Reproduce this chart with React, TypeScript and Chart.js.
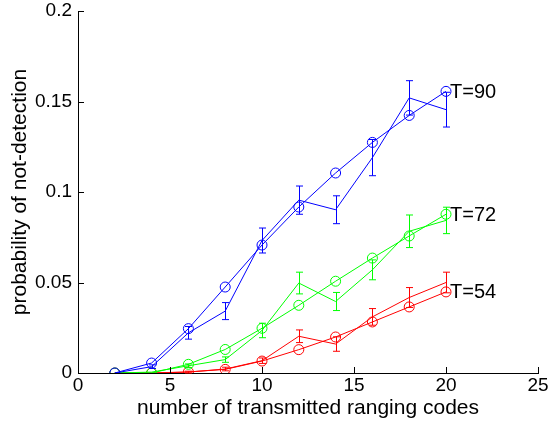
import React, { useEffect, useRef } from "react";
import { Chart, registerables } from "chart.js";

Chart.register(...registerables);

const xValues = [2, 4, 6, 8, 10, 12, 14, 16, 18, 20];

const modelT90 = [0, 0.0055, 0.0245, 0.0475, 0.0707, 0.0917, 0.1105, 0.1274, 0.1423, 0.1556];
const simT90 = [0, 0.0035, 0.0222, 0.0342, 0.0732, 0.0955, 0.0902, 0.119, 0.152, 0.1455];
const errT90 = [0, 0.001, 0.0035, 0.0047, 0.0069, 0.0078, 0.0077, 0.01, 0.0095, 0.0096];

const modelT72 = [0, 0, 0.0048, 0.013, 0.0247, 0.0374, 0.0507, 0.0635, 0.0757, 0.0877];
const simT72 = [0, 0.0005, 0.004, 0.0074, 0.0235, 0.0497, 0.0395, 0.057, 0.0783, 0.0843];
const errT72 = [0, 0, 0.001, 0.0015, 0.004, 0.006, 0.005, 0.0055, 0.009, 0.0073];

const modelT54 = [0, 0, 0.0006, 0.002, 0.0066, 0.0129, 0.0199, 0.0282, 0.0365, 0.0448];
const simT54 = [0, 0, 0.0005, 0.0022, 0.0068, 0.0203, 0.016, 0.031, 0.0417, 0.05];
const errT54 = [0, 0, 0.0005, 0.001, 0.0015, 0.0035, 0.004, 0.0046, 0.0055, 0.0057];

const seriesLabels = ["T=90", "T=72", "T=54"];
const seriesColors = ["#0000ff", "#00ff00", "#ff0000"];

const xTicks = [0, 5, 10, 15, 20, 25];
const yTicks = [0, 0.05, 0.1, 0.15, 0.2];
const yTickLabels = ["0", "0.05", "0.1", "0.15", "0.2"];

const xTitle = "number of transmitted ranging codes";
const yTitle = "probability of not-detection";

const FONT = "'Liberation Sans', Arial, Helvetica, sans-serif";

const models = [modelT90, modelT72, modelT54];
const sims = [simT90, simT72, simT54];
const errs = [errT90, errT72, errT54];

export default function App() {
  const ref = useRef<HTMLCanvasElement | null>(null);

  useEffect(() => {
    if (!ref.current) return;
    const datasets: any[] = [];
    for (let i = 0; i < 3; i++) {
      datasets.push({
        label: seriesLabels[i] + " model",
        data: xValues.map((x, k) => ({ x, y: models[i][k] })),
        borderColor: seriesColors[i],
        backgroundColor: "rgba(0,0,0,0)",
        borderWidth: 1,
        pointRadius: 5,
        pointBorderWidth: 1,
        pointBorderColor: seriesColors[i],
        pointBackgroundColor: "rgba(0,0,0,0)",
        pointStyle: "circle",
        tension: 0,
        fill: false,
        showLine: true,
      });
      datasets.push({
        label: seriesLabels[i] + " simulation",
        data: xValues.map((x, k) => ({ x, y: sims[i][k], err: errs[i][k] })),
        borderColor: seriesColors[i],
        backgroundColor: "rgba(0,0,0,0)",
        borderWidth: 1,
        pointRadius: 0,
        tension: 0,
        fill: false,
        showLine: true,
        errorBars: true,
      });
    }

    const errorBarPlugin = {
      id: "errorBars",
      afterDatasetsDraw(chart: any) {
        const ctx = chart.ctx;
        const xs = chart.scales.x;
        const ys = chart.scales.y;
        ctx.save();
        chart.data.datasets.forEach((ds: any) => {
          if (!ds.errorBars) return;
          ctx.strokeStyle = ds.borderColor;
          ctx.lineWidth = 1;
          ds.data.forEach((p: any) => {
            if (!p.err) return;
            const px = Math.round(xs.getPixelForValue(p.x)) + 0.5;
            const yt = ys.getPixelForValue(p.y + p.err);
            const yb = ys.getPixelForValue(p.y - p.err);
            ctx.beginPath();
            ctx.moveTo(px, yt);
            ctx.lineTo(px, yb);
            ctx.moveTo(px - 3.5, yt);
            ctx.lineTo(px + 3.5, yt);
            ctx.moveTo(px - 3.5, yb);
            ctx.lineTo(px + 3.5, yb);
            ctx.stroke();
          });
        });
        ctx.restore();
      },
    };

    const annotationPlugin = {
      id: "seriesText",
      afterDraw(chart: any) {
        const ctx = chart.ctx;
        const xs = chart.scales.x;
        const ys = chart.scales.y;
        ctx.save();
        ctx.fillStyle = "#000";
        ctx.font = `20px ${FONT}`;
        ctx.textAlign = "left";
        ctx.textBaseline = "middle";
        for (let i = 0; i < 3; i++) {
          const last = xValues.length - 1;
          const px = xs.getPixelForValue(xValues[last]);
          const py = ys.getPixelForValue(models[i][last]);
          ctx.fillText(seriesLabels[i], px + 4, py + 1);
        }
        // inward tick marks
        ctx.strokeStyle = "#000";
        ctx.lineWidth = 1;
        ctx.beginPath();
        xTicks.forEach((t) => {
          const px = Math.round(xs.getPixelForValue(t)) + 0.5;
          ctx.moveTo(px, chart.chartArea.bottom);
          ctx.lineTo(px, chart.chartArea.bottom - 6);
        });
        yTicks.forEach((t) => {
          const py = Math.round(ys.getPixelForValue(t)) + 0.5;
          ctx.moveTo(chart.chartArea.left, py);
          ctx.lineTo(chart.chartArea.left + 6, py);
        });
        ctx.stroke();
        ctx.restore();
      },
    };

    const zeroPad = (scale: any) => {
      scale.paddingTop = 0;
      scale.paddingBottom = 0;
      scale.paddingLeft = 0;
      scale.paddingRight = 0;
    };

    const chart = new Chart(ref.current, {
      type: "scatter",
      data: { datasets },
      plugins: [errorBarPlugin, annotationPlugin],
      options: {
        animation: false,
        responsive: false,
        maintainAspectRatio: false,
        events: [],
        layout: { padding: { top: 11, right: 17, bottom: 0, left: 0 } },
        plugins: {
          legend: { display: false },
          tooltip: { enabled: false },
        },
        scales: {
          x: {
            type: "linear",
            min: 0,
            max: 25,
            afterBuildTicks: (scale: any) => {
              scale.ticks = xTicks.map((v) => ({ value: v }));
            },
            afterFit: (scale: any) => {
              scale.height = 50;
              zeroPad(scale);
            },
            grid: { display: false, drawTicks: false },
            border: { display: true, color: "#000", width: 1 },
            ticks: {
              color: "#000",
              padding: 1,
              font: { family: FONT, size: 19 },
              maxRotation: 0,
              autoSkip: false,
              callback: (v: any) => String(v),
            },
            title: {
              display: true,
              text: xTitle,
              color: "#000",
              font: { family: FONT, size: 21 },
              padding: { top: 0, bottom: 2 },
            },
          },
          y: {
            type: "linear",
            min: 0,
            max: 0.2,
            afterBuildTicks: (scale: any) => {
              scale.ticks = yTicks.map((v) => ({ value: v }));
            },
            afterFit: (scale: any) => {
              scale.width = 78;
              zeroPad(scale);
            },
            grid: { display: false, drawTicks: false },
            border: { display: true, color: "#000", width: 1 },
            ticks: {
              color: "#000",
              padding: 6,
              font: { family: FONT, size: 19 },
              autoSkip: false,
              callback: (v: any) => {
                const idx = yTicks.findIndex((t) => Math.abs(t - v) < 1e-9);
                return idx >= 0 ? yTickLabels[idx] : "";
              },
            },
            title: {
              display: true,
              text: yTitle,
              color: "#000",
              font: { family: FONT, size: 21 },
              padding: { top: 8, bottom: 0 },
            },
          },
        },
      },
    });
    return () => chart.destroy();
  }, []);

  return (
    <div style={{ position: "fixed", left: 0, top: 0, width: 555, height: 423, background: "#fff" }}>
      <canvas ref={ref} width={555} height={423} style={{ width: 555, height: 423, display: "block" }} />
    </div>
  );
}
